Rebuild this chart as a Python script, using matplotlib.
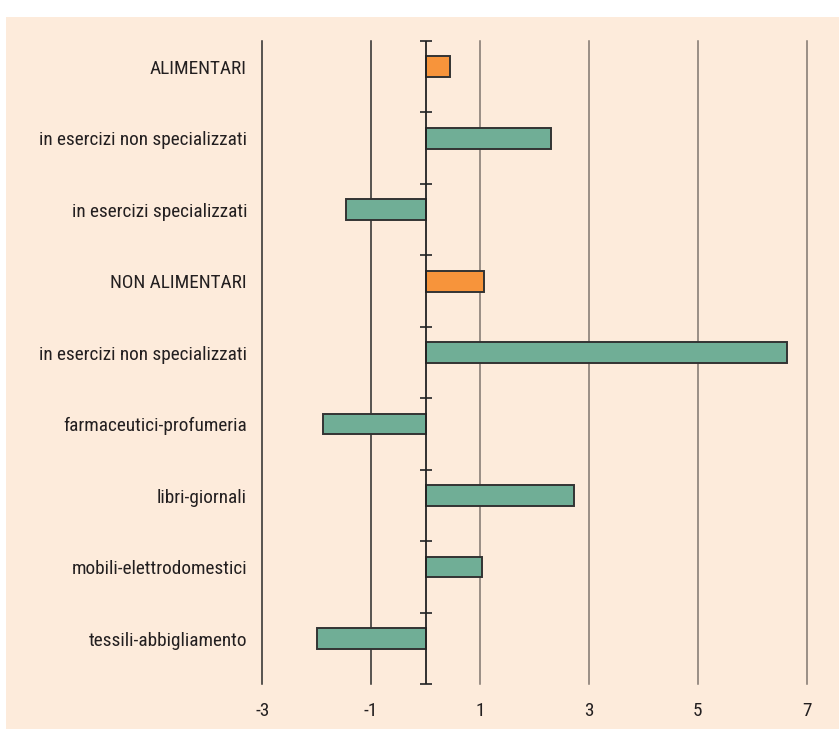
import matplotlib
matplotlib.use("Agg")
import matplotlib.pyplot as plt
from matplotlib.patches import Rectangle
import numpy as np

categories = [
    "ALIMENTARI",
    "in esercizi non specializzati",
    "in esercizi specializzati",
    "NON ALIMENTARI",
    "in esercizi non specializzati",
    "farmaceutici-profumeria",
    "libri-giornali",
    "mobili-elettrodomestici",
    "tessili-abbigliamento",
]
values = [0.45, 2.31, -1.47, 1.07, 6.65, -1.88, 2.73, 1.04, -2.00]
is_total = [True, False, False, True, False, False, False, False, False]
x_ticks = [-3, -1, 1, 3, 5, 7]
x_ticklabels = ["-3", "-1", "1", "3", "5", "7"]

plt.rcParams["font.family"] = ["Roboto Condensed", "DejaVu Sans"]
TEXT = "#231F20"
BG = "#FDEBDB"
GREEN = "#70AE96"
ORANGE = "#F7943B"

W, H = 839, 729
fig = plt.figure(figsize=(W / 100, H / 100), dpi=100)
fig.patch.set_facecolor("white")
fig.patches.append(Rectangle((6 / W, 0), 1, (H - 17) / H, transform=fig.transFigure,
                             facecolor=BG, edgecolor="none", zorder=-10))

left, right = 262.3 / W, 806.5 / W
top, bottom = 1 - 41 / H, 1 - 684.3 / H
ax = fig.add_axes([left, bottom, right - left, top - bottom])
ax.set_facecolor("none")

n = len(categories)
pos = np.arange(n) + 0.36
colors = [ORANGE if t else GREEN for t in is_total]
ax.barh(pos, values, height=0.29, color=colors, edgecolor="#333333", linewidth=1.4, zorder=3)

ax.set_xlim(-3, 7)
ax.set_ylim(n, 0)
for xv in x_ticks:
    gc = "#2a2a2a" if xv < 0 else "#7f756e"
    ax.axvline(xv, color=gc, linewidth=1.1, zorder=1, clip_on=False)
ax.axvline(0, color="#222222", linewidth=1.3, zorder=4)

ax.set_xticks(x_ticks)
ax.set_xticklabels(x_ticklabels)
ax.set_yticks(pos)
ax.set_yticklabels(categories)
ax.tick_params(axis="both", length=0, labelsize=13.9, colors=TEXT)
ax.tick_params(axis="y", pad=11)
ax.tick_params(axis="x", pad=13)
for s in ax.spines.values():
    s.set_visible(False)

# zero axis with tick marks at the category boundaries
zero_frac = (0 - (-3)) / (7 - (-3))
sec = ax.secondary_yaxis(zero_frac)
sec.set_yticks(np.arange(n + 1))
sec.set_yticklabels([])
sec.tick_params(axis="y", direction="inout", length=9, width=1.3, color="#333333")
for s in sec.spines.values():
    s.set_visible(False)

fig.savefig("out.png", dpi=100, facecolor=fig.get_facecolor())
